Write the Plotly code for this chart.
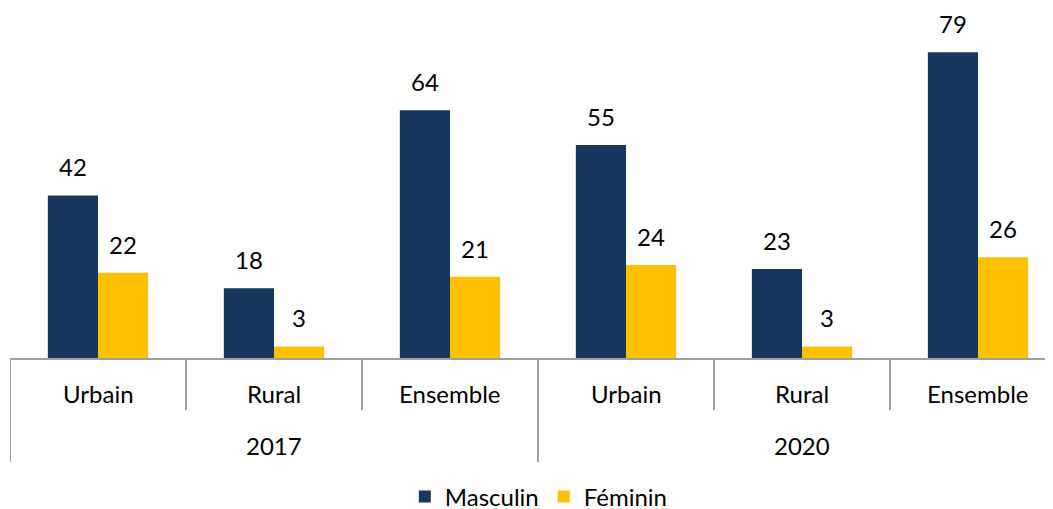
import plotly.graph_objects as go

years = ["2017", "2017", "2017", "2020", "2020", "2020"]
zones = ["Urbain", "Rural", "Ensemble", "Urbain", "Rural", "Ensemble"]
masculin = [42, 18, 64, 55, 23, 79]
feminin = [22, 3, 21, 24, 3, 26]
series_names = ["Masculin", "Féminin"]
colors = ["#17375E", "#FFC000"]

FONT = "Lato"
FS = 24
GRID = "#A0A0A0"
cats = [f"{y} {z}" for y, z in zip(years, zones)]

fig = go.Figure()
for name, vals, col in zip(series_names, [masculin, feminin], colors):
    fig.add_trace(go.Bar(x=cats, y=vals, name=name, marker_color=col, marker_line_width=0))

# value labels above bars
bargap = 0.43
bar_w = (1 - bargap) / 2
for k, vals in enumerate([masculin, feminin]):
    off = (k - 0.5) * bar_w
    for i, v in enumerate(vals):
        fig.add_annotation(x=i + off, y=v, xref="x", yref="y", text=str(v),
                           showarrow=False, yanchor="bottom", yshift=12,
                           font=dict(family=FONT, size=FS, color="black"))

# two-level category axis: zone labels, year labels, dividers
for i, z in enumerate(zones):
    fig.add_annotation(x=i, y=0, xref="x", yref="y", text=z, showarrow=False,
                       yanchor="middle", yshift=-35,
                       font=dict(family=FONT, size=FS, color="black"))
uniq_years = list(dict.fromkeys(years))
for yv in uniq_years:
    idx = [i for i, y in enumerate(years) if y == yv]
    fig.add_annotation(x=sum(idx) / len(idx), y=0, xref="x", yref="y", text=yv,
                       showarrow=False, yanchor="middle", yshift=-87,
                       font=dict(family=FONT, size=FS, color="black"))
for i in range(len(cats) + 1):
    is_group = i == 0 or i == len(cats) or years[i] != years[i - 1]
    fig.add_shape(type="line", xref="x", yref="paper", x0=i - 0.5, x1=i - 0.5,
                  ysizemode="pixel", yanchor=0, y0=0, y1=-104 if is_group else -52,
                  line=dict(color=GRID, width=2))

fig.update_layout(
    width=1053, height=520,
    margin=dict(l=2, r=8, t=0, b=170),
    plot_bgcolor="white", paper_bgcolor="white",
    barmode="group", bargap=bargap, bargroupgap=0,
    font=dict(family=FONT, size=FS, color="black"),
    showlegend=True,
    legend=dict(orientation="h", x=0.507, xanchor="center", y=-0.397, yanchor="middle",
                font=dict(family=FONT, size=FS), traceorder="normal"),
)
fig.update_xaxes(showline=True, linecolor=GRID, linewidth=2, showticklabels=False,
                 range=[-0.5, 5.426], showgrid=False)
fig.update_yaxes(range=[0, 90.4], showgrid=False, showticklabels=False, zeroline=False,
                 showline=False)
fig.write_html("out.html")
